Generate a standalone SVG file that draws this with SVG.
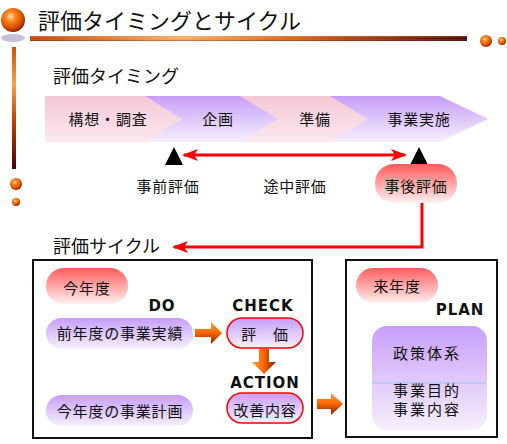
<svg xmlns="http://www.w3.org/2000/svg" width="507" height="444" viewBox="0 0 507 444">
<defs>
<radialGradient id="sph" cx="0.4" cy="0.35" r="0.65">
<stop offset="0" stop-color="#ffe0b0"/>
<stop offset="0.3" stop-color="#ff8a20"/>
<stop offset="0.8" stop-color="#d04800"/>
<stop offset="1" stop-color="#902000"/>
</radialGradient>
<linearGradient id="hbar" x1="0" y1="0" x2="1" y2="0">
<stop offset="0" stop-color="#c84000"/>
<stop offset="0.35" stop-color="#ffb060"/>
<stop offset="0.6" stop-color="#e06010"/>
<stop offset="1" stop-color="#500000"/>
</linearGradient>
<linearGradient id="hbarv" x1="0" y1="0" x2="0" y2="1">
<stop offset="0" stop-color="#ff9a40" stop-opacity="0.3"/>
<stop offset="0.5" stop-color="#ffffff" stop-opacity="0"/>
<stop offset="1" stop-color="#400000" stop-opacity="0.5"/>
</linearGradient>
<linearGradient id="vbar" x1="0" y1="0" x2="0" y2="1">
<stop offset="0" stop-color="#d05000"/>
<stop offset="0.3" stop-color="#ffa040"/>
<stop offset="0.6" stop-color="#c84000"/>
<stop offset="1" stop-color="#500000"/>
</linearGradient>
<linearGradient id="pink" x1="0" y1="0" x2="0" y2="1">
<stop offset="0" stop-color="#f4c8d6"/>
<stop offset="1" stop-color="#fbe8ef"/>
</linearGradient>
<linearGradient id="purp" x1="0" y1="0" x2="0" y2="1">
<stop offset="0" stop-color="#c79ef9"/>
<stop offset="1" stop-color="#f6f0fb"/>
</linearGradient>
<linearGradient id="red" x1="0" y1="0" x2="0" y2="1">
<stop offset="0" stop-color="#ff5c5c"/>
<stop offset="1" stop-color="#fff0f0"/>
</linearGradient>
<linearGradient id="orh" x1="0" y1="0" x2="0" y2="1">
<stop offset="0" stop-color="#ffa040"/>
<stop offset="0.45" stop-color="#ff6a00"/>
<stop offset="1" stop-color="#8a2000"/>
</linearGradient>
<linearGradient id="orv" x1="0" y1="0" x2="1" y2="0">
<stop offset="0" stop-color="#ffa040"/>
<stop offset="0.45" stop-color="#ff6a00"/>
<stop offset="1" stop-color="#8a2000"/>
</linearGradient>
<marker id="ah" viewBox="0 0 16 12" refX="14" refY="6" markerWidth="16" markerHeight="12" markerUnits="userSpaceOnUse" orient="auto-start-reverse">
<path d="M0,0 L16,6 L0,12 L4,6 Z" fill="#ff0000"/>
</marker>
<style>
text{font-family:"Noto Sans CJK JP","Noto Sans",sans-serif;fill:#111;}
.c{text-anchor:middle;dominant-baseline:central;}
.h{font-size:22px;}
.s{font-size:18px;}
.t{font-size:15px;letter-spacing:0.8px;}
.e{font-family:"DejaVu Sans",sans-serif;font-weight:bold;font-size:15px;letter-spacing:1px;text-anchor:middle;dominant-baseline:central;}
.box{fill:#fff;stroke:#111;stroke-width:2;}
.pp{fill:url(#purp);}
.pr{fill:url(#purp);stroke:#ff0000;stroke-width:1.5;}
.rp{fill:url(#red);}
.ln{fill:none;stroke:#ff0000;stroke-width:3;}
</style>
</defs>
<rect width="507" height="444" fill="#fff"/>

<g id="decor">
<ellipse cx="13" cy="38" rx="12" ry="4" fill="#c8c0d8"/>
<circle cx="13" cy="20" r="12" fill="url(#sph)"/>
<rect x="30" y="36" width="437" height="5" fill="url(#hbar)"/>
<rect x="30" y="36" width="437" height="5" fill="url(#hbarv)"/>
<circle cx="486" cy="41" r="6" fill="url(#sph)"/>
<circle cx="502" cy="41" r="4" fill="url(#sph)"/>
<rect x="12" y="47" width="4" height="122" fill="url(#vbar)"/>
<circle cx="16" cy="184" r="6" fill="url(#sph)"/>
<circle cx="16" cy="202" r="4" fill="url(#sph)"/>
</g>

<text class="h" x="38" y="19" dominant-baseline="central">評価タイミングとサイクル</text>
<text class="s" x="53" y="75" dominant-baseline="central">評価タイミング</text>
<text class="s" x="53" y="245" dominant-baseline="central">評価サイクル</text>

<g id="phases">
<polygon points="330,96 440,96 488,119 440,142 330,142" fill="url(#purp)"/>
<polygon points="240,96 330,96 368,119 330,142 240,142" fill="url(#pink)"/>
<polygon points="145,96 240,96 278,119 240,142 145,142" fill="url(#purp)"/>
<polygon points="45,96 145,96 182,119 145,142 45,142" fill="url(#pink)"/>
<text class="c t" x="108" y="118">構想・調査</text>
<text class="c t" x="218" y="118">企画</text>
<text class="c t" x="315" y="118">準備</text>
<text class="c t" x="419" y="118">事業実施</text>
</g>

<g id="timing">
<polygon points="174,147 183,165 165,165" fill="#000"/>
<polygon points="419,147 428,165 410,165" fill="#000"/>
<text class="c t" x="168" y="185">事前評価</text>
<text class="c t" x="295" y="185">途中評価</text>
<g id="post">
<rect x="375" y="164" width="82" height="39" rx="19" class="rp"/>
<text class="c t" x="416" y="185">事後評価</text>
</g>
</g>

<g id="thisyear">
<rect x="33" y="260" width="279" height="178" class="box"/>
<rect x="46" y="268" width="82" height="36" rx="18" class="rp"/>
<text class="c t" x="87" y="287">今年度</text>
<text class="e" x="162" y="305.5">DO</text>
<text class="e" x="263" y="305.5">CHECK</text>
<text class="e" x="265" y="382.5">ACTION</text>
<g id="do1">
<rect x="46" y="318" width="147" height="31" rx="15.5" class="pp"/>
<text class="c t" x="120" y="332">前年度の事業実績</text>
</g>
<g id="check">
<rect x="227" y="318" width="76" height="30" rx="15" class="pr"/>
<text class="c t" x="265" y="333">評　価</text>
</g>
<g id="action">
<rect x="227" y="393" width="76" height="30" rx="15" class="pr"/>
<text class="c t" x="265" y="409">改善内容</text>
</g>
<g id="do2">
<rect x="46" y="395" width="147" height="31" rx="15.5" class="pp"/>
<text class="c t" x="120" y="410">今年度の事業計画</text>
</g>
</g>

<g id="nextyear">
<rect x="346" y="260" width="151" height="177" class="box"/>
<rect x="356" y="268" width="82" height="35" rx="17.5" class="rp"/>
<text class="c t" x="397" y="285">来年度</text>
<text class="e" x="460" y="310">PLAN</text>
<g id="plan">
<rect x="372" y="326" width="115" height="104" rx="15" class="pp"/>
<line x1="372" y1="383" x2="487" y2="383" stroke="#9fc0f0" stroke-width="1"/>
<text class="c t" x="427" y="352" style="letter-spacing:2px">政策体系</text>
<text class="c t" x="427" y="389" style="letter-spacing:2px">事業目的</text>
<text class="c t" x="427" y="408" style="letter-spacing:2px">事業内容</text>
</g>
</g>

<g id="connectors">
<line x1="184" y1="155" x2="405" y2="155" class="ln" marker-start="url(#ah)" marker-end="url(#ah)"/>
<polyline points="422,203 422,247 174,247" class="ln" marker-end="url(#ah)"/>
<path d="M195,329 H211 V322 L222,333 L211,344 V337 H195 Z" fill="url(#orh)"/>
<path d="M259,349 H269 V362 H276 L264,374 L252,362 H259 Z" fill="url(#orv)"/>
<path d="M317,399 H331 V393 L343,404 L331,415 V409 H317 Z" fill="url(#orh)"/>
</g>
</svg>
